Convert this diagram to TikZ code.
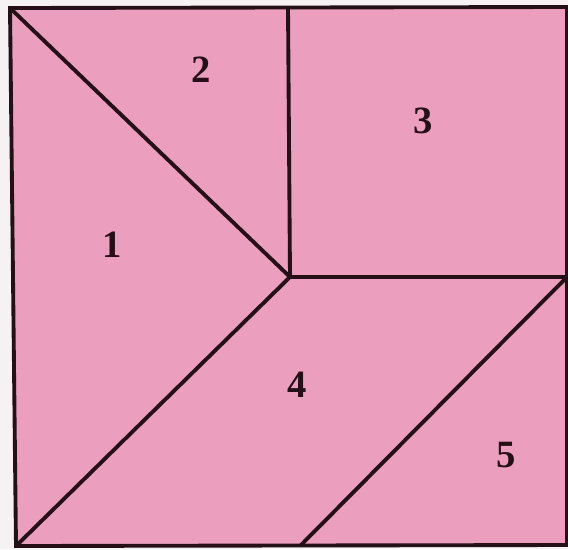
\documentclass[tikz,border=0pt]{standalone}
\usepackage{fontspec}
\setmainfont{Liberation Serif}
\definecolor{paper}{RGB}{246,242,243}
\definecolor{tilepink}{RGB}{236,158,190}
\definecolor{edgeink}{RGB}{36,16,22}
\tikzset{
  cut/.style={draw=edgeink,line width=2.2pt,line join=miter},
  piecelabel/.style={font=\fontsize{22}{24}\selectfont\bfseries,text=edgeink}
}
\begin{document}
\begin{tikzpicture}[x=0.02cm,y=-0.02cm]
\fill[paper](0,0)rectangle(568,549);
\useasboundingbox(0,0)rectangle(568,549);
% corners of the square
\coordinate(TL)at(10,8);
\coordinate(TR)at(567,7);
\coordinate(BR)at(567,545);
\coordinate(BL)at(16,546);
% inner points
\coordinate(C)at(290,277);
\coordinate(T)at(288,7);
\coordinate(R)at(567,277);
\coordinate(B)at(300,546);
\fill[tilepink](TL)--(TR)--(BR)--(BL)--cycle;
\draw[cut](TL)--(TR)--(BR)--(BL)--cycle;
\draw[cut](TL)--(C)--(BL);
\draw[cut](T)--(C)--(R);
\draw[cut](R)--(B);
% numbers of the pieces
\node[piecelabel](n1)at(112,245){1};
\node[piecelabel](n2)at(201,70){2};
\node[piecelabel](n3)at(423,121){3};
\node[piecelabel](n4)at(297,385){4};
\node[piecelabel](n5)at(506,455){5};
\end{tikzpicture}
\end{document}
